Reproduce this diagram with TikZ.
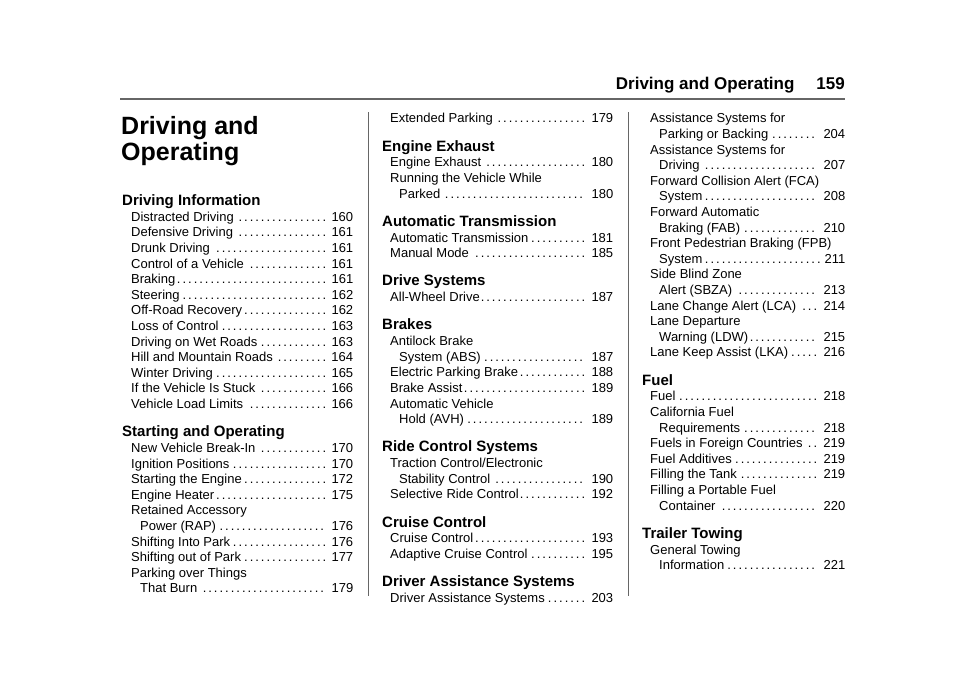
\documentclass[tikz,border=0pt]{standalone}
\usepackage{fontspec}
\setmainfont{Liberation Sans}
\newcommand\dotlead{\leaders\hbox to 5.6pt{\hss.\hss}\hfill}
\tikzset{ent/.style={inner sep=0pt,anchor=base west,font=\fontsize{13}{15}\selectfont},
 head/.style={inner sep=0pt,anchor=base west,font=\fontsize{15}{17}\bfseries\selectfont},
 ttl/.style={inner sep=0pt,anchor=base west,font=\fontsize{25}{28}\bfseries\selectfont}}
% #1 name, #2 x, #3 centre y, #4 width, #5 text, #6 page
\newcommand\En[6]{\node[ent] (#1) at (#2pt,-#3pt-4.5pt) {\hbox to #4pt{#5\dotlead\,#6}};}
\newcommand\Pl[4]{\node[ent] (#1) at (#2pt,-#3pt-4.5pt) {#4};}
\newcommand\Hd[4]{\node[head] (#1) at (#2pt,-#3pt-5.5pt) {#4};}
\begin{document}
\begin{tikzpicture}[x=1pt,y=1pt]
\useasboundingbox (0,0) rectangle (960,-678);
% header
\node[inner sep=0pt,anchor=base east,font=\fontsize{17}{19}\bfseries\selectfont] (hdr) at (845,-89) {Driving and Operating\hspace{22pt}159};
\draw[gray!80!black,line width=1.3pt] (120,-99) -- (845,-99);
\draw[gray!80!black,line width=1pt] (368,-112) -- (368,-596);
\draw[gray!80!black,line width=1pt] (628,-112) -- (628,-596);
% column 1
\node[ttl] (t1) at (121,-134) {Driving and};
\node[ttl] (t2) at (121,-160) {Operating};
\Hd{h1}{122}{200}{Driving Information}
\En{a1}{131}{216.7}{222}{Distracted Driving}{160}
\En{a2}{131}{232.3}{222}{Defensive Driving}{161}
\En{a3}{131}{247.9}{222}{Drunk Driving}{161}
\En{a4}{131}{263.5}{222}{Control of a Vehicle}{161}
\En{a5}{131}{279.1}{222}{Braking}{161}
\En{a6}{131}{294.7}{222}{Steering}{162}
\En{a7}{131}{310.3}{222}{Off-Road Recovery}{162}
\En{a8}{131}{325.9}{222}{Loss of Control}{163}
\En{a9}{131}{341.5}{222}{Driving on Wet Roads}{163}
\En{a10}{131}{357.1}{222}{Hill and Mountain Roads}{164}
\En{a11}{131}{372.7}{222}{Winter Driving}{165}
\En{a12}{131}{388.3}{222}{If the Vehicle Is Stuck}{166}
\En{a13}{131}{403.9}{222}{Vehicle Load Limits}{166}
\Hd{h2}{122}{431.2}{Starting and Operating}
\En{b1}{131}{447.9}{222}{New Vehicle Break-In}{170}
\En{b2}{131}{463.5}{222}{Ignition Positions}{170}
\En{b3}{131}{479.1}{222}{Starting the Engine}{172}
\En{b4}{131}{494.7}{222}{Engine Heater}{175}
\Pl{b5}{131}{510.3}{Retained Accessory}
\En{b6}{140}{525.9}{213}{Power (RAP)}{176}
\En{b7}{131}{541.5}{222}{Shifting Into Park}{176}
\En{b8}{131}{557.1}{222}{Shifting out of Park}{177}
\Pl{b9}{131}{572.7}{Parking over Things}
\En{b10}{140}{588.3}{213}{That Burn}{179}
% column 2
\En{c1}{390}{118.3}{223}{Extended Parking}{179}
\Hd{h3}{382}{145.6}{Engine Exhaust}
\En{c2}{390}{162.3}{223}{Engine Exhaust}{180}
\Pl{c3}{390}{177.9}{Running the Vehicle While}
\En{c4}{399}{193.5}{214}{Parked}{180}
\Hd{h4}{382}{220.8}{Automatic Transmission}
\En{c5}{390}{237.5}{223}{Automatic Transmission}{181}
\En{c6}{390}{253.1}{223}{Manual Mode}{185}
\Hd{h5}{382}{280.4}{Drive Systems}
\En{c7}{390}{297.1}{223}{All-Wheel Drive}{187}
\Hd{h6}{382}{324.4}{Brakes}
\Pl{c8}{390}{341.1}{Antilock Brake}
\En{c9}{399}{356.7}{214}{System (ABS)}{187}
\En{c10}{390}{372.3}{223}{Electric Parking Brake}{188}
\En{c11}{390}{387.9}{223}{Brake Assist}{189}
\Pl{c12}{390}{403.5}{Automatic Vehicle}
\En{c13}{399}{419.1}{214}{Hold (AVH)}{189}
\Hd{h7}{382}{446.4}{Ride Control Systems}
\Pl{c14}{390}{463.1}{Traction Control/Electronic}
\En{c15}{399}{478.7}{214}{Stability Control}{190}
\En{c16}{390}{494.3}{223}{Selective Ride Control}{192}
\Hd{h8}{382}{521.6}{Cruise Control}
\En{c17}{390}{538.3}{223}{Cruise Control}{193}
\En{c18}{390}{553.9}{223}{Adaptive Cruise Control}{195}
\Hd{h9}{382}{581.2}{Driver Assistance Systems}
\En{c19}{390}{597.9}{223}{Driver Assistance Systems}{203}
% column 3
\Pl{d1}{650}{118.3}{Assistance Systems for}
\En{d2}{659}{133.9}{186}{Parking or Backing}{204}
\Pl{d3}{650}{149.5}{Assistance Systems for}
\En{d4}{659}{165.1}{186}{Driving}{207}
\Pl{d5}{650}{180.7}{Forward Collision Alert (FCA)}
\En{d6}{659}{196.3}{186}{System}{208}
\Pl{d7}{650}{211.9}{Forward Automatic}
\En{d8}{659}{227.5}{186}{Braking (FAB)}{210}
\Pl{d9}{650}{243.1}{Front Pedestrian Braking (FPB)}
\En{d10}{659}{258.7}{186}{System}{211}
\Pl{d11}{650}{274.3}{Side Blind Zone}
\En{d12}{659}{289.9}{186}{Alert (SBZA)}{213}
\En{d13}{650}{305.5}{195}{Lane Change Alert (LCA)}{214}
\Pl{d14}{650}{321.1}{Lane Departure}
\En{d15}{659}{336.7}{186}{Warning (LDW)}{215}
\En{d16}{650}{352.3}{195}{Lane Keep Assist (LKA)}{216}
\Hd{h10}{642}{379.6}{Fuel}
\En{e1}{650}{396.3}{195}{Fuel}{218}
\Pl{e2}{650}{411.9}{California Fuel}
\En{e3}{659}{427.5}{186}{Requirements}{218}
\En{e4}{650}{443.1}{195}{Fuels in Foreign Countries}{219}
\En{e5}{650}{458.7}{195}{Fuel Additives}{219}
\En{e6}{650}{474.3}{195}{Filling the Tank}{219}
\Pl{e7}{650}{489.9}{Filling a Portable Fuel}
\En{e8}{659}{505.5}{186}{Container}{220}
\Hd{h11}{642}{532.8}{Trailer Towing}
\Pl{e9}{650}{549.5}{General Towing}
\En{e10}{659}{565.1}{186}{Information}{221}
\end{tikzpicture}
\end{document}
